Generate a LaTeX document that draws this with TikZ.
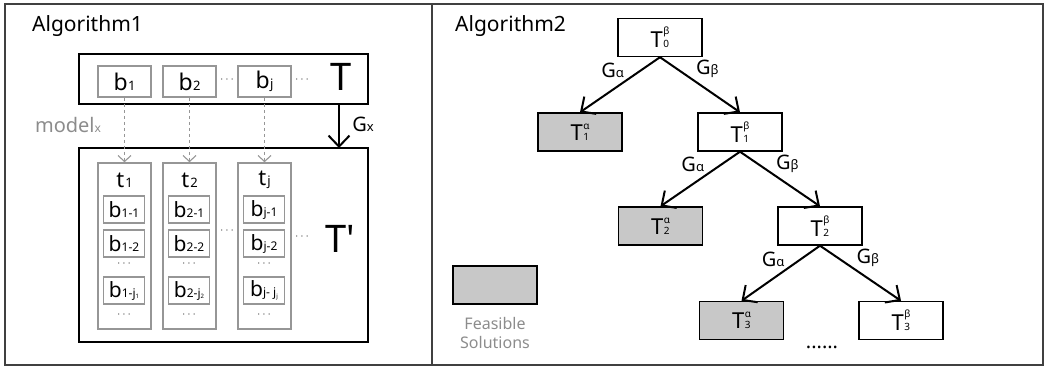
\documentclass[tikz,border=0pt]{standalone}
\usepackage{fontspec}
\setmainfont{Noto Sans}
\usetikzlibrary{arrows.meta}
\definecolor{fillg}{RGB}{200,200,200}
\definecolor{lineg}{RGB}{150,150,150}
\definecolor{textg}{RGB}{140,140,140}
\newcommand\fs[1]{\fontsize{#1}{#1}\selectfont}
\newcommand\TT[2]{T\kern0.5pt{\fs{10}\shortstack[l]{#1\\[0.3pt]#2}}}
\newcommand\bsub[1]{b\kern0.3pt{\fs{13}#1}}
\newcommand\jsub[1]{j{\raisebox{-0.15em}{\fs{6}#1}}}
\begin{document}
\begin{tikzpicture}[x=1pt,y=-1pt,
  frame/.style={draw=black!75,line width=1.3pt},
  bigbox/.style={draw=black,line width=2.5pt},
  gbox/.style={draw=lineg,line width=1.5pt,minimum width=53pt,minimum height=31pt,inner sep=0pt,font=\fs{23}},
  ibox/.style={draw=lineg,line width=1.5pt,minimum width=41pt,minimum height=27pt,inner sep=0pt,font=\fs{21}},
  col/.style={draw=lineg,line width=1.5pt,minimum width=53pt,minimum height=166pt,inner sep=0pt},
  tnode/.style={draw=black,line width=1.4pt,minimum width=84pt,minimum height=38pt,inner sep=0pt,font=\fs{22}},
  feas/.style={tnode,fill=fillg},
  garrow/.style={-{Straight Barb[length=11pt,width=21pt,line width=2pt]},line width=2pt},
  darrow/.style={draw=lineg,dashed,line width=1.1pt,-{Straight Barb[length=6pt,width=13pt,line width=1.1pt]}},
  dots/.style={font=\fs{12},text=black!70},
  lbl/.style={font=\fs{20},inner sep=1.5pt}
]
\useasboundingbox (0,0) rectangle (1046,369);
% frames
\draw[frame] (5,4) rectangle (1043,365);
\draw[frame] (432,4) -- (432,365);

% ---------- Algorithm 1 ----------
\node[anchor=base west,font=\fs{21},inner sep=0pt] (a1) at (32,32) {Algorithm1};
\node[bigbox,minimum width=289pt,minimum height=50pt,inner sep=0pt] (T) at (223.5,79) {};
\node[gbox] (b1) at (124.5,81.5) {\bsub{1}};
\node[gbox] (b2) at (189.5,81.5) {\bsub{2}};
\node[gbox] (bj) at (264.5,81.5) {\bsub{j}};
\node[dots] (d1) at (227,80) {$\cdots$};
\node[dots] (d2) at (302,80) {$\cdots$};
\node[font=\fs{38},inner sep=0pt] (Tl) at (341,77) {T};

\node[bigbox,minimum width=289pt,minimum height=194pt,inner sep=0pt] (Tp) at (223.5,245) {};
\node[col] (c1) at (124.5,246) {};
\node[col] (c2) at (189.5,246) {};
\node[col] (cj) at (264.5,246) {};
\node[font=\fs{22}] (t1) at (124.5,180) {t\kern1pt{\fs{13}1}};
\node[font=\fs{22}] (t2) at (189.5,180) {t\kern1pt{\fs{13}2}};
\node[font=\fs{22}] (tj) at (264.5,180) {t\kern1pt{\fs{13}j}};

\node[ibox] (b11) at (124,209.5) {b{\fs{12}1-1}};
\node[ibox] (b12) at (124,243.5) {b{\fs{12}1-2}};
\node[dots] (e1) at (124,264) {$\cdots$};
\node[ibox] (b1j) at (124,290.5) {b{\fs{12}1-\jsub{1}}};
\node[dots] (f1) at (124,315) {$\cdots$};

\node[ibox] (b21) at (189,209.5) {b{\fs{12}2-1}};
\node[ibox] (b22) at (189,243.5) {b{\fs{12}2-2}};
\node[dots] (e2) at (189,264) {$\cdots$};
\node[ibox] (b2j) at (189,290.5) {b{\fs{12}2-\jsub{2}}};
\node[dots] (f2) at (189,315) {$\cdots$};

\node[ibox] (bj1) at (264,209.5) {b{\fs{12}j-1}};
\node[ibox] (bj2) at (264,243.5) {b{\fs{12}j-2}};
\node[dots] (e3) at (264,264) {$\cdots$};
\node[ibox] (bjj) at (264,290.5) {b{\fs{12}j- \jsub{j}}};
\node[dots] (f3) at (264,315) {$\cdots$};

\node[dots] (m1) at (227,231) {$\cdots$};
\node[dots] (m2) at (302,237) {$\cdots$};
\node[font=\fs{38},inner sep=0pt] (Tpl) at (340,239) {T\textquotesingle};

\draw[darrow] (b1) -- (c1);
\draw[darrow] (b2) -- (c2);
\draw[darrow] (bj) -- (cj);
\node[font=\fs{20},text=textg] (model) at (68,125) {model{\fs{12}x}};

\coordinate (gx1) at (339,104);
\coordinate (gx2) at (339,148);
\draw[garrow] (gx1) -- (gx2);
\node[font=\fs{20}] (gx) at (363,124) {G{\fs{13}x}};

% ---------- Algorithm 2 ----------
\node[anchor=base west,font=\fs{21},inner sep=0pt] (a2) at (455,32) {Algorithm2};
\node[tnode] (T0) at (660,37.5) {\TT{β}{0}};
\node[feas] (T1a) at (580,132) {\TT{α}{1}};
\node[tnode] (T1b) at (740,132) {\TT{β}{1}};
\node[feas] (T2a) at (660.5,226) {\TT{α}{2}};
\node[tnode] (T2b) at (820,226) {\TT{β}{2}};
\node[feas] (T3a) at (741.5,320.5) {\TT{α}{3}};
\node[tnode] (T3b) at (901,320.5) {\TT{β}{3}};

\draw[garrow] (T0.south) -- node[lbl,pos=0.42,above left] {G{\fs{13}α}} (T1a.north);
\draw[garrow] (T0.south) -- node[lbl,pos=0.42,above right] {G{\fs{13}β}} (T1b.north);
\draw[garrow] (T1b.south) -- node[lbl,pos=0.42,above left] {G{\fs{13}α}} (T2a.north);
\draw[garrow] (T1b.south) -- node[lbl,pos=0.42,above right] {G{\fs{13}β}} (T2b.north);
\draw[garrow] (T2b.south) -- node[lbl,pos=0.42,above left] {G{\fs{13}α}} (T3a.north);
\draw[garrow] (T2b.south) -- node[lbl,pos=0.42,above right] {G{\fs{13}β}} (T3b.north);

\node[feas] (leg) at (495,285) {};
\node[font=\fs{16},text=textg,align=center,inner sep=0pt] (legt) at (495,333) {Feasible\\[3pt]Solutions};
\node[font=\fs{20}] (more) at (822,347) {......};
\end{tikzpicture}
\end{document}
